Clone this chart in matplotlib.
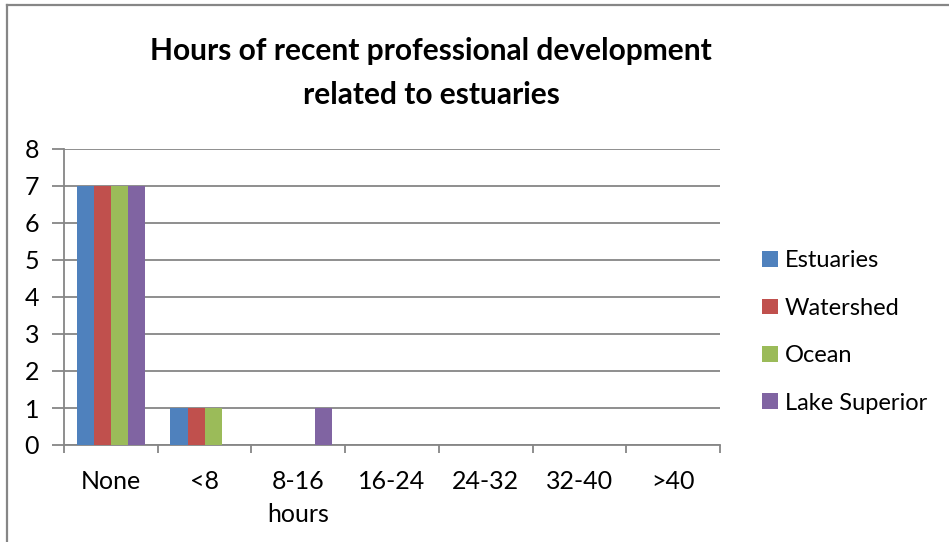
import matplotlib
matplotlib.use("Agg")
import matplotlib.pyplot as plt
from matplotlib.lines import Line2D
import numpy as np

plt.rcParams['font.family'] = ['Lato', 'DejaVu Sans']

categories = ["None", "<8", "8-16\nhours", "16-24", "24-32", "32-40", ">40"]
series_names = ["Estuaries", "Watershed", "Ocean", "Lake Superior"]
estuaries = [7, 1, 0, 0, 0, 0, 0]
watershed = [7, 1, 0, 0, 0, 0, 0]
ocean = [7, 1, 0, 0, 0, 0, 0]
lake_superior = [7, 0, 1, 0, 0, 0, 0]
y_ticks = [0, 1, 2, 3, 4, 5, 6, 7, 8]

colors = ["#4F81BD", "#C0504D", "#9BBB59", "#8064A2"]
grid_gray = "#868686"

W, H = 949, 542
fig = plt.figure(figsize=(W / 100, H / 100), dpi=100)
fig.patch.set_facecolor("white")

# plot area in pixel coordinates
left, right, top, bottom = 64, 720, 149, 445
ax = fig.add_axes([left / W, 1 - bottom / H, (right - left) / W, (bottom - top) / H])

x = np.arange(len(categories))
values = [estuaries, watershed, ocean, lake_superior]
bar_w = 1 / 5.5
for i, (name, vals, c) in enumerate(zip(series_names, values, colors)):
    ax.bar(x + (i - 1.5) * bar_w, vals, width=bar_w, color=c, label=name,
           zorder=3, linewidth=0)

ax.set_xlim(-0.5, len(categories) - 0.5)
ax.set_ylim(0, 8)
ax.set_yticks(y_ticks)
ax.set_yticklabels([str(v) for v in y_ticks], fontsize=18)
ax.yaxis.grid(True, color=grid_gray, linewidth=1.3, zorder=0)
ax.set_axisbelow(True)

# category labels centered, ticks on category boundaries
ax.set_xticks(x)
ax.set_xticklabels(categories, fontsize=18, linespacing=1.55, va="top")
ax.tick_params(axis="x", which="major", length=0, pad=18)
ax.set_xticks(np.arange(len(categories) + 1) - 0.5, minor=True)
ax.tick_params(axis="x", which="minor", length=6, width=1.3, color=grid_gray,
               direction="out")
ax.tick_params(axis="y", length=9, width=1.3, color=grid_gray, pad=9)

for s in ["top", "right"]:
    ax.spines[s].set_visible(False)
for s in ["left", "bottom"]:
    ax.spines[s].set_color(grid_gray)
    ax.spines[s].set_linewidth(1.3)

fig.text(431 / W, 1 - 73 / H,
         "Hours of recent professional development\nrelated to estuaries",
         ha="center", va="center", fontsize=21.5, fontweight="bold",
         linespacing=1.7)

fig.legend(loc="center left", bbox_to_anchor=(753 / W, 1 - 332 / H),
           frameon=False, fontsize=17, handlelength=0.66, handleheight=0.66,
           handletextpad=0.3, labelspacing=1.12, borderaxespad=0)

# chart border (top and left edges)
fig.add_artist(Line2D([7 / W, 1], [1 - 4.5 / H, 1 - 4.5 / H], color=grid_gray,
                      linewidth=1.6, transform=fig.transFigure))
fig.add_artist(Line2D([7 / W, 7 / W], [0, 1 - 4.5 / H], color=grid_gray,
                      linewidth=1.6, transform=fig.transFigure))

fig.savefig("out.png", dpi=100)
